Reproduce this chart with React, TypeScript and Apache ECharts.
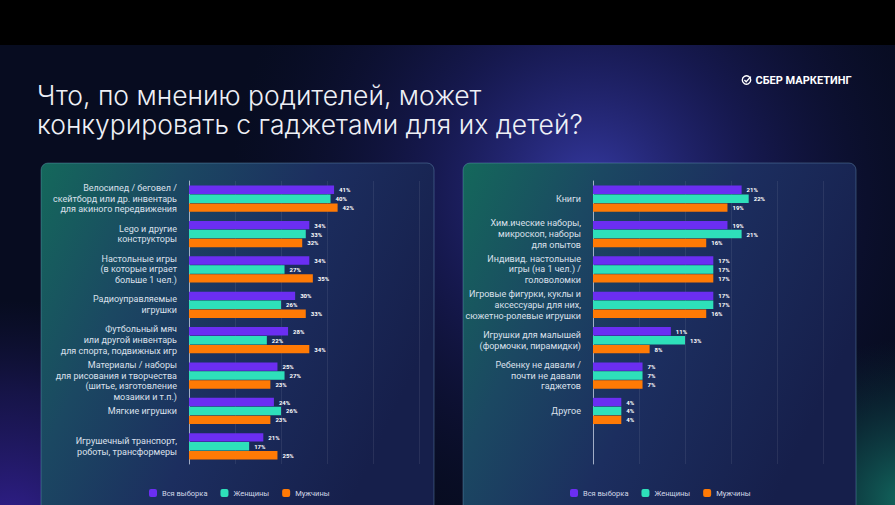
import React, { useEffect, useRef } from "react";
import * as echarts from "echarts";

const seriesNames = ["Вся выборка", "Женщины", "Мужчины"];
const seriesColors = ["#6b2ef2", "#2ee0ba", "#ff7a05"];

const categoriesLeft = [
  "Велосипед / беговел /\nскейтборд или др. инвентарь\nдля акиного передвижения",
  "Lego и другие\nконструкторы",
  "Настольные игры\n(в которые играет\nбольше 1 чел.)",
  "Радиоуправляемые\nигрушки",
  "Футбольный мяч\nили другой инвентарь\nдля спорта, подвижных игр",
  "Материалы / наборы\nдля рисования и творчества\n(шитье, изготовление\nмозаики и т.п.)",
  "Мягкие игрушки",
  "Игрушечный транспорт,\nроботы, трансформеры",
];
const allLeft = [41, 34, 34, 30, 28, 25, 24, 21];
const womenLeft = [40, 33, 27, 26, 22, 27, 26, 17];
const menLeft = [42, 32, 35, 33, 34, 23, 23, 25];

const categoriesRight = [
  "Книги",
  "Хим.ические наборы,\nмикроскоп, наборы\nдля опытов",
  "Индивид. настольные\nигры (на 1 чел.) /\nголоволомки",
  "Игровые фигурки, куклы и\nаксессуары для них,\nсюжетно-ролевые игрушки",
  "Игрушки для малышей\n(формочки, пирамидки)",
  "Ребенку не давали /\nпочти не давали\nгаджетов",
  "Другое",
];
const allRight = [21, 19, 17, 17, 11, 7, 4];
const womenRight = [22, 21, 17, 17, 13, 7, 4];
const menRight = [19, 16, 17, 16, 8, 7, 4];

const titleLines = [
  "Что, по мнению родителей, может",
  "конкурировать с гаджетами для их детей?",
];
const brandText = "СБЕР МАРКЕТИНГ";

const FONT = "Roboto, 'Noto Sans', sans-serif";
const TITLE_FONT = "Inter, 'Open Sans', sans-serif";

function panel(x: number) {
  return {
    type: "rect",
    shape: { x, y: 163, width: 393, height: 370, r: 7 },
    style: {
      fill: new echarts.graphic.LinearGradient(0, 0, 1, 0.45, [
        { offset: 0, color: "#14685b" },
        { offset: 0.3, color: "#1b4862" },
        { offset: 0.6, color: "#1c2e5f" },
        { offset: 1, color: "#161f4b" },
      ]),
      stroke: "rgba(120,175,205,0.35)",
      lineWidth: 1,
    },
  };
}

export default function App() {
  const ref = useRef<HTMLDivElement>(null);
  useEffect(() => {
    if (!ref.current) return;
    const chart = echarts.init(ref.current, null, { renderer: "svg" });

    const yAxisBase = {
      type: "category",
      inverse: true,
      axisLine: { show: true, lineStyle: { color: "rgba(200,210,228,0.75)", width: 1 } },
      axisTick: { show: false },
      axisLabel: {
        margin: 12,
        color: "#dbe0ec",
        fontSize: 9,
        lineHeight: 10.8,
        fontFamily: FONT,
      },
      splitLine: { show: false },
    };
    const xAxisBase = {
      type: "value",
      min: 0,
      axisLabel: { show: false },
      axisLine: { show: false },
      axisTick: { show: false },
      splitLine: { show: true, lineStyle: { color: "rgba(255,255,255,0.08)", width: 1 } },
    };
    const label = {
      show: true,
      position: "right",
      distance: 5,
      color: "#ffffff",
      fontSize: 6,
      fontWeight: "bold",
      fontFamily: FONT,
      formatter: "{c}%",
    };
    const leftData = [allLeft, womenLeft, menLeft];
    const rightData = [allRight, womenRight, menRight];

    const series: any[] = [];
    seriesNames.forEach((name, i) => {
      series.push({
        name,
        type: "bar",
        xAxisIndex: 0,
        yAxisIndex: 0,
        data: leftData[i],
        barWidth: 8.4,
        barGap: "6%",
        itemStyle: { color: seriesColors[i] },
        label,
      });
    });
    seriesNames.forEach((name, i) => {
      series.push({
        name,
        type: "bar",
        xAxisIndex: 1,
        yAxisIndex: 1,
        data: [...rightData[i], null],
        barWidth: 8.4,
        barGap: "6%",
        itemStyle: { color: seriesColors[i] },
        label,
      });
    });

    const legendBase = {
      orient: "horizontal",
      top: 484,
      itemWidth: 8,
      itemHeight: 8,
      itemGap: 13,
      icon: "roundRect",
      data: seriesNames,
      textStyle: { color: "#d3d9e8", fontSize: 7.5, fontFamily: FONT },
    };

    const titleStyle = {
      color: "#eef0f6",
      fontSize: 26.5,
      fontWeight: 300,
      fontFamily: TITLE_FONT,
    };

    chart.setOption({
      animation: false,
      backgroundColor: "#070c20",
      textStyle: { fontFamily: FONT },
      title: titleLines.map((t, i) => ({
        text: t,
        left: 37,
        top: 81.5 + i * 29,
        padding: 0,
        textStyle: titleStyle,
      })),
      graphic: [
        {
          type: "circle",
          shape: { cx: 590, cy: 190, r: 360 },
          style: {
            fill: new echarts.graphic.RadialGradient(0.5, 0.5, 0.5, [
              { offset: 0, color: "rgba(58,62,175,0.9)" },
              { offset: 0.45, color: "rgba(40,40,135,0.45)" },
              { offset: 1, color: "rgba(20,20,70,0)" },
            ]),
          },
        },
        {
          type: "circle",
          shape: { cx: 10, cy: 530, r: 230 },
          style: {
            fill: new echarts.graphic.RadialGradient(0.5, 0.5, 0.5, [
              { offset: 0, color: "rgba(52,32,150,0.95)" },
              { offset: 0.6, color: "rgba(40,30,120,0.45)" },
              { offset: 1, color: "rgba(30,25,90,0)" },
            ]),
          },
        },
        {
          type: "circle",
          shape: { cx: 905, cy: 500, r: 160 },
          style: {
            fill: new echarts.graphic.RadialGradient(0.5, 0.5, 0.5, [
              { offset: 0, color: "rgba(20,120,105,0.85)" },
              { offset: 1, color: "rgba(15,60,70,0)" },
            ]),
          },
        },
        { type: "rect", shape: { x: 0, y: 0, width: 895, height: 45 }, style: { fill: "#000000" } },
        panel(41),
        panel(463),
        {
          type: "circle",
          shape: { cx: 746.5, cy: 80, r: 4.2 },
          style: { fill: "none", stroke: "#ffffff", lineWidth: 1.4 },
        },
        {
          type: "polyline",
          shape: { points: [[744.4, 80], [746.2, 81.8], [750.8, 76.6]] },
          style: { fill: "none", stroke: "#ffffff", lineWidth: 1.4 },
        },
        {
          type: "text",
          x: 755.5,
          y: 80,
          style: {
            text: brandText,
            fill: "#ffffff",
            fontSize: 11,
            fontWeight: "bold",
            fontFamily: FONT,
            verticalAlign: "middle",
          },
        },
      ],
      legend: [
        { ...legendBase, left: 144 },
        { ...legendBase, left: 565 },
      ],
      grid: [
        { left: 189, top: 181, width: 230, height: 283, containLabel: false },
        { left: 593, top: 181, width: 230, height: 283, containLabel: false },
      ],
      xAxis: [
        { ...xAxisBase, gridIndex: 0, max: 65, interval: 13 },
        { ...xAxisBase, gridIndex: 1, max: 32.5, interval: 6.5 },
      ],
      yAxis: [
        {
          ...yAxisBase,
          gridIndex: 0,
          data: categoriesLeft,
          axisLabel: {
            ...yAxisBase.axisLabel,
            formatter: (v: string) => (v.split("\n").length > 3 ? "\n" + v : v),
          },
        },
        { ...yAxisBase, gridIndex: 1, data: [...categoriesRight, ""] },
      ],
      series,
    });
    return () => chart.dispose();
  }, []);
  return (
    <div
      ref={ref}
      style={{ position: "absolute", left: 0, top: 0, width: 895, height: 505 }}
    />
  );
}
